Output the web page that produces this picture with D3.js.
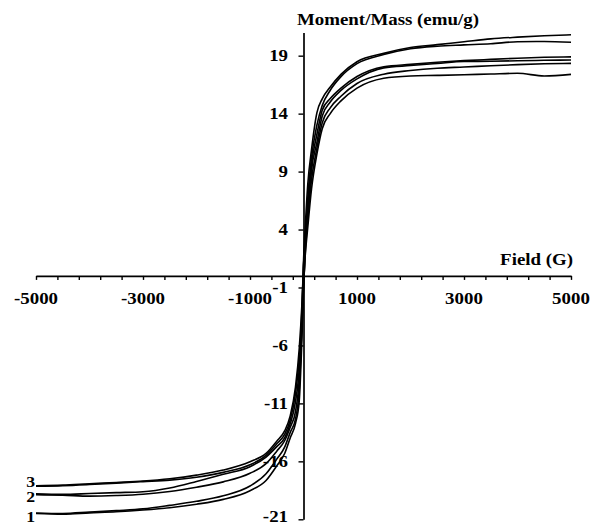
<!DOCTYPE html>
<html>
<head>
<meta charset="utf-8">
<script src="https://cdn.jsdelivr.net/npm/d3@7"></script>
<style>
  html, body { margin: 0; padding: 0; background: #fff; }
  svg { display: block; }
  text { font-family: "Liberation Serif", "Times New Roman", serif; font-weight: bold; fill: #000; }
</style>
</head>
<body>
<svg id="chart" width="601" height="526"></svg>
<script>
// ---------------- data ----------------
const field = [-5000, -4500, -4000, -3500, -3000, -2500, -2000, -1500, -1000, -700, -500, -350, -250, -150, -80, -30, 0, 30, 80, 150, 250, 350, 500, 700, 1000, 1500, 2000, 2500, 3000, 3500, 4000, 4500, 5000];

// sample 1, descending and ascending branches
const sample1Down = [-20.45, -20.5, -20.38, -20.25, -20.1, -19.8, -19.45, -18.97, -18.13, -17.07, -15.81, -14.75, -13.52, -12.35, -9.8, -4.0, 1.2, 4.0, 7.9, 10.9, 14.07, 15.27, 16.3, 17.39, 18.48, 19.2, 19.7, 19.95, 20.2, 20.45, 20.6, 20.72, 20.8];
const sample1Up   = [-20.5, -20.56, -20.45, -20.35, -20.2, -20.0, -19.7, -19.28, -18.53, -17.65, -16.39, -15.3, -14.0, -12.74, -10.8, -5.5, -1.2, 2.2, 6.7, 10.2, 13.0, 14.7, 16.02, 17.19, 18.31, 19.1, 19.6, 19.82, 19.93, 20.03, 20.2, 20.22, 20.16];
// sample 2
const sample2Down = [-18.8, -18.85, -18.78, -18.7, -18.62, -18.3, -17.74, -17.12, -16.46, -15.63, -14.73, -13.95, -12.78, -10.85, -8.0, -3.0, 0.8, 3.0, 5.9, 9.6, 12.2, 14.3, 15.3, 16.2, 17.2, 18.05, 18.25, 18.43, 18.57, 18.68, 18.78, 18.86, 18.9];
const sample2Up   = [-18.88, -18.92, -19.0, -18.95, -18.84, -18.6, -18.23, -17.77, -17.03, -16.2, -15.12, -14.2, -13.08, -11.7, -9.0, -4.6, -1.0, 1.8, 5.0, 9.1, 11.5, 13.8, 15.0, 16.0, 17.0, 17.95, 18.15, 18.33, 18.5, 18.52, 18.56, 18.6, 18.63];
// sample 3
const sample3Down = [-18.1, -18.05, -17.93, -17.82, -17.7, -17.5, -17.19, -16.75, -16.03, -15.32, -14.26, -13.35, -12.1, -9.6, -6.3, -2.5, 0.8, 2.8, 5.0, 8.3, 11.0, 13.2, 14.5, 15.5, 16.6, 17.4, 17.72, 17.92, 18.02, 18.13, 18.23, 18.3, 18.34];
const sample3Up   = [-18.15, -18.1, -18.0, -17.88, -17.75, -17.62, -17.37, -16.95, -16.3, -15.48, -14.49, -13.65, -12.45, -10.16, -7.2, -3.8, -0.8, 1.6, 4.2, 7.5, 10.5, 12.7, 14.0, 15.1, 16.2, 17.05, 17.25, 17.3, 17.36, 17.42, 17.48, 17.25, 17.39];

const seriesList = [sample1Down, sample1Up, sample2Down, sample2Up, sample3Down, sample3Up];

// curve labels at the left end
const curveLabels = ["1", "2", "3"];
const curveLabelValues = [-20.75, -19.1, -17.8];

// axis ticks and labels
const xMinorTicks = d3.range(-5000, 5001, 400);
const xLabelTicks = [-5000, -3000, -1000, 1000, 3000, 5000];
const yTicks = [-21, -16, -11, -6, -1, 4, 9, 14, 19];
const xTitle = "Field (G)";
const yTitle = "Moment/Mass (emu/g)";

// ---------------- drawing ----------------
const svg = d3.select("#chart");
const x = d3.scaleLinear().domain([-5000, 5000]).range([36, 571]);
const y = d3.scaleLinear().domain([-21, 21]).range([519.3, 32.5]);

const FONT = 16;
const STRETCH = 1.18;
const fmt = d => String(d); // plain hyphen-minus, as in the reference
function stretch(sel) {
  sel.each(function () {
    const L = this.getComputedTextLength();
    this.setAttribute("textLength", (L * STRETCH).toFixed(2));
    this.setAttribute("lengthAdjust", "spacingAndGlyphs");
  });
}

// x axis (minor ticks, no labels)
const gx = svg.append("g")
  .attr("transform", `translate(0,${y(0)})`)
  .call(d3.axisBottom(x).tickValues(xMinorTicks).tickSize(4).tickSizeOuter(0).tickFormat(""));
gx.select(".domain").attr("stroke", "#000").attr("stroke-width", 1.7);
gx.selectAll(".tick line").attr("stroke", "#000").attr("stroke-width", 1.4);

// x labels
const xl = svg.append("g").selectAll("text").data(xLabelTicks).join("text")
  .attr("x", d => x(d))
  .attr("y", y(0) + 28)
  .attr("text-anchor", "middle")
  .attr("font-size", FONT)
  .text(fmt);
stretch(xl);

// y axis
const gy = svg.append("g")
  .attr("transform", `translate(${x(0)},0)`)
  .call(d3.axisLeft(y).tickValues(yTicks).tickFormat(fmt).tickSize(5).tickSizeOuter(0).tickPadding(10.5));
gy.select(".domain").attr("stroke", "#000").attr("stroke-width", 1.7);
gy.selectAll(".tick line").attr("stroke", "#000").attr("stroke-width", 1.4);
const yl = gy.selectAll(".tick text")
  .attr("font-size", FONT)
  .attr("fill", "#000")
  .attr("dy", d => d === -21 ? "0.12em" : "0.3em");
stretch(yl);

// titles
const t1 = svg.append("text")
  .attr("x", x(0) - 6.5).attr("y", 24.5)
  .attr("font-size", FONT)
  .text(yTitle);
stretch(t1);
const t2 = svg.append("text")
  .attr("x", x(5000) + 2).attr("y", y(0) - 10.5)
  .attr("text-anchor", "end")
  .attr("font-size", FONT)
  .text(xTitle);
stretch(t2);

// curves
const line = d3.line()
  .x((d, i) => x(field[i]))
  .y(d => y(d))
  .curve(d3.curveMonotoneX);

svg.append("g").selectAll("path").data(seriesList).join("path")
  .attr("d", d => line(d))
  .attr("fill", "none")
  .attr("stroke", "#000")
  .attr("stroke-width", 1.6)
  .attr("stroke-linejoin", "round");

// curve labels
const cl = svg.append("g").selectAll("text").data(curveLabels).join("text")
  .attr("x", x(-5000) - 1)
  .attr("y", (d, i) => y(curveLabelValues[i]))
  .attr("dy", "0.34em")
  .attr("text-anchor", "end")
  .attr("font-size", 15)
  .text(d => d);
stretch(cl);
</script>
</body>
</html>
